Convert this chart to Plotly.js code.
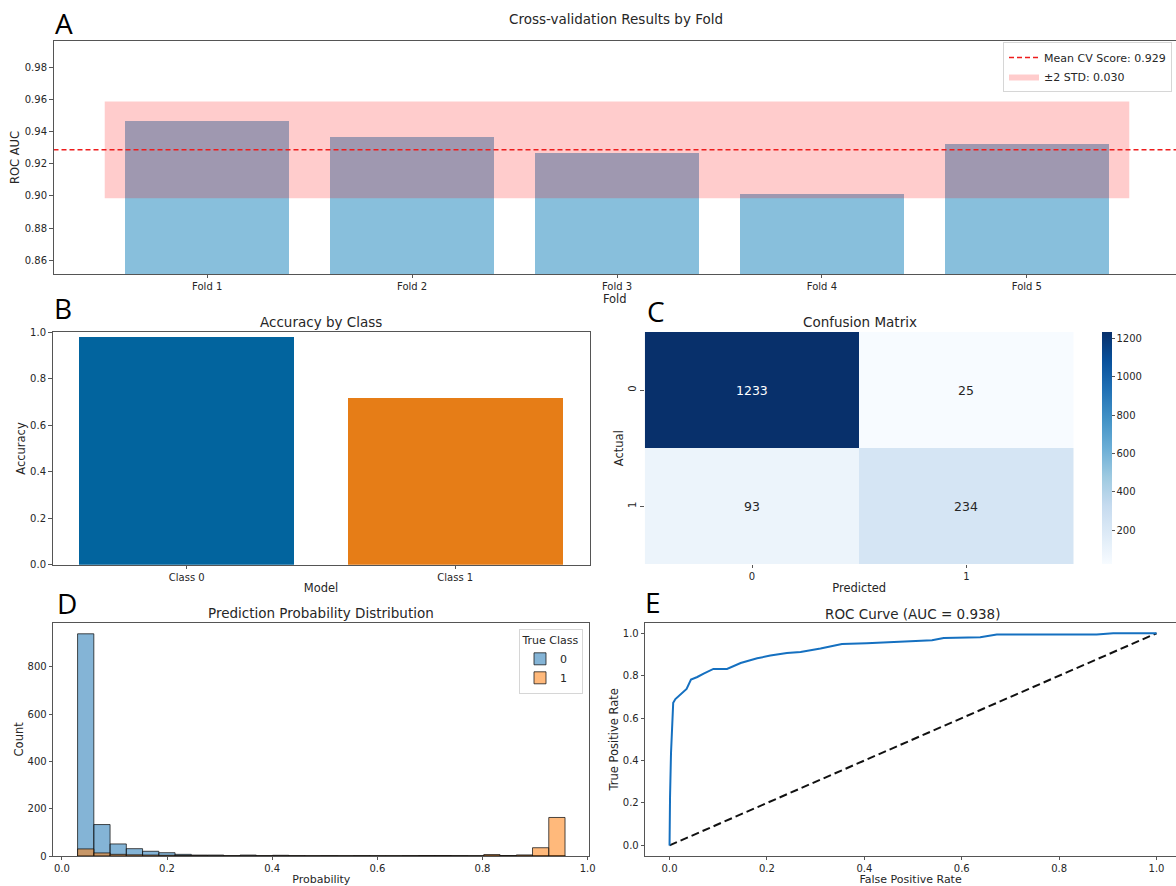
<!DOCTYPE html>
<html>
<head>
<meta charset="utf-8">
<script src="https://cdn.plot.ly/plotly-3.0.1.min.js"></script>
<style>
  html, body { margin: 0; padding: 0; background: #ffffff; }
  #chart { width: 1176px; height: 886px; }
</style>
</head>
<body>
<div id="chart"></div>
<script>
// ---- A: ROC AUC per cross-validation fold ----
const foldLabels = ['Fold 1', 'Fold 2', 'Fold 3', 'Fold 4', 'Fold 5'];
const foldScores = [0.9463, 0.9367, 0.9268, 0.9015, 0.9322];

// ---- B / C: per-class accuracy and confusion matrix ----
const classLabels = ['Class 0', 'Class 1'];
const matrixLabels = ['0', '1'];
const confusion = [[1233, 25], [93, 234]];

// ---- D: predicted probability histogram (30 equal bins) ----
const binStart = 0.0299;
const binWidth = 0.0309;
const class0Counts = [940, 133, 51, 31, 20, 14, 7, 4, 4, 1, 4, 1, 3, 1, 0,
                      1, 0, 1, 0, 0, 1, 2, 2, 1, 0, 3, 2, 3, 2, 2];
const class1Counts = [30, 13, 7, 5, 4, 3, 2, 2, 1, 1, 1, 1, 1, 1, 1,
                      1, 1, 1, 1, 1, 1, 2, 2, 1, 1, 6, 2, 4, 35, 163];

// ---- E: ROC curve ----
const rocAuc = 0.938;
const fpr = [0, 0.000, 0.001, 0.003, 0.006, 0.0075, 0.012, 0.019, 0.028, 0.035, 0.044,
             0.057, 0.070, 0.090, 0.118, 0.146, 0.180, 0.207, 0.241, 0.269, 0.310,
             0.354, 0.405, 0.474, 0.539, 0.563, 0.638, 0.672, 0.877, 0.911, 1.0];
const tpr = [0, 0.050, 0.231, 0.436, 0.593, 0.672, 0.690, 0.706, 0.726, 0.738, 0.782,
             0.794, 0.810, 0.832, 0.832, 0.860, 0.882, 0.895, 0.907, 0.912, 0.928,
             0.950, 0.953, 0.962, 0.967, 0.978, 0.981, 0.994, 0.994, 1.0, 1.0];

// ---------------------------------------------------------------
const W = 1176, H = 886;
const px = x => x / W;
const py = y => 1 - y / H;

const FONT = 'DejaVu Sans, sans-serif';
const TXT = '#262626';
const AX = '#555555';

// fold statistics
const n = foldScores.length;
const mean = foldScores.reduce((a, b) => a + b, 0) / n;
const std = Math.sqrt(foldScores.reduce((a, b) => a + (b - mean) ** 2, 0) / n);
const foldIdx = foldLabels.map((_, i) => i);
const xRangeA = [-0.75, 4.728];

// class accuracy = diagonal / row total
const classAcc = confusion.map((row, i) => row[i] / row.reduce((a, b) => a + b, 0));

// histogram bin centres
const binCenters = class0Counts.map((_, i) => binStart + (i + 0.5) * binWidth);
const histLo = binStart, histHi = binStart + class0Counts.length * binWidth;
const histPad = 0.05 * (histHi - histLo);

const flat = confusion.flat();
const zMin = Math.min(...flat), zMax = Math.max(...flat);

// matplotlib "Blues"
const blues = [
  [0.000, '#f7fbff'], [0.125, '#deebf7'], [0.250, '#c6dbef'], [0.375, '#9ecae1'],
  [0.500, '#6baed6'], [0.625, '#4292c6'], [0.750, '#2171b5'], [0.875, '#08519c'],
  [1.000, '#08306b']
];

const traces = [
  // A
  {
    type: 'bar', x: foldIdx, y: foldScores, width: 0.8,
    marker: { color: 'rgb(136,191,220)', line: { width: 0 } },
    xaxis: 'x', yaxis: 'y', showlegend: false, hoverinfo: 'y'
  },
  {
    type: 'scatter', mode: 'lines',
    x: [-0.5, n - 0.5, n - 0.5, -0.5, -0.5],
    y: [mean - 2 * std, mean - 2 * std, mean + 2 * std, mean + 2 * std, mean - 2 * std],
    fill: 'toself', fillcolor: 'rgba(255,0,0,0.2)', line: { width: 0 },
    name: '±2 STD: ' + (2 * std).toFixed(3), legendrank: 2,
    xaxis: 'x', yaxis: 'y', legend: 'legend', hoverinfo: 'skip'
  },
  {
    type: 'scatter', mode: 'lines', x: xRangeA, y: [mean, mean],
    line: { color: '#ee1c1c', width: 1.4, dash: '5px,3px' },
    name: 'Mean CV Score: ' + mean.toFixed(3), legendrank: 1,
    xaxis: 'x', yaxis: 'y', legend: 'legend'
  },
  // B
  {
    type: 'bar', x: classLabels, y: classAcc, width: 0.8,
    marker: { color: ['#02649E', '#E67D17'], line: { width: 0 } },
    xaxis: 'x2', yaxis: 'y2', showlegend: false
  },
  // C
  {
    type: 'heatmap', z: confusion, x: matrixLabels, y: matrixLabels,
    colorscale: blues, zmin: zMin, zmax: zMax,
    xaxis: 'x3', yaxis: 'y3', showscale: true,
    colorbar: {
      x: px(1101.5), xanchor: 'left', xpad: 0,
      y: py(448), yanchor: 'middle', ypad: 0,
      len: (564 - 332) / H, lenmode: 'fraction',
      thickness: 10, thicknessmode: 'pixels', outlinewidth: 0,
      tickvals: [200, 400, 600, 800, 1000, 1200],
      ticks: 'outside', ticklen: 3, tickcolor: AX,
      tickfont: { family: FONT, size: 10, color: TXT }
    }
  },
  // D
  {
    type: 'bar', x: binCenters, y: class0Counts, width: binWidth, name: '0',
    marker: { color: 'rgba(31,119,180,0.55)', line: { color: 'rgba(20,20,20,0.85)', width: 0.9 } },
    xaxis: 'x4', yaxis: 'y4', legend: 'legend2'
  },
  {
    type: 'bar', x: binCenters, y: class1Counts, width: binWidth, name: '1',
    marker: { color: 'rgba(255,127,14,0.55)', line: { color: 'rgba(20,20,20,0.85)', width: 0.9 } },
    xaxis: 'x4', yaxis: 'y4', legend: 'legend2'
  },
  // E
  {
    type: 'scatter', mode: 'lines', x: [0, 1], y: [0, 1],
    line: { color: '#111111', width: 2, dash: '8px,4px' },
    xaxis: 'x5', yaxis: 'y5', showlegend: false
  },
  {
    type: 'scatter', mode: 'lines', x: fpr, y: tpr,
    line: { color: '#1570c0', width: 2 },
    xaxis: 'x5', yaxis: 'y5', showlegend: false
  }
];

const tickFont = { family: FONT, size: 10, color: TXT };
const titleFont = { family: FONT, size: 11.5, color: TXT };
const bottomTitleFont = { family: FONT, size: 11, color: TXT };
const baseAxis = {
  showgrid: false, zeroline: false, showline: true, linecolor: AX, linewidth: 1,
  ticks: 'outside', ticklen: 3.5, tickwidth: 1, tickcolor: AX,
  tickfont: tickFont, automargin: false, fixedrange: true
};

const layout = {
  width: W, height: H,
  margin: { l: 0, r: 0, t: 0, b: 0 },
  paper_bgcolor: '#ffffff', plot_bgcolor: '#ffffff',
  font: { family: FONT, color: TXT },
  barmode: 'overlay', bargap: 0,
  // A
  xaxis: Object.assign({}, baseAxis, {
    domain: [px(53.5), 1], range: xRangeA,
    tickvals: foldIdx, ticktext: foldLabels, mirror: true, ticklen: 3,
    title: { text: 'Fold', font: titleFont, standoff: 1 }
  }),
  yaxis: Object.assign({}, baseAxis, {
    domain: [py(274), py(41)],
    range: [Math.min(...foldScores) - 0.05, Math.max(...foldScores) + 0.05],
    dtick: 0.02, tick0: 0.86, tickformat: '.2f',
    title: { text: 'ROC AUC', font: titleFont, standoff: 2 }
  }),
  // B
  xaxis2: Object.assign({}, baseAxis, {
    domain: [px(52.5), px(589.5)], range: [-0.5, 1.5], mirror: true,
    type: 'category', anchor: 'y2', ticklen: 3,
    title: { text: 'Model', font: titleFont, standoff: 2 }
  }),
  yaxis2: Object.assign({}, baseAxis, {
    domain: [py(564.7), py(332.3)], range: [0, 1], mirror: true,
    dtick: 0.2, tickformat: '.1f', anchor: 'x2',
    title: { text: 'Accuracy', font: titleFont, standoff: 2 }
  }),
  // C
  xaxis3: Object.assign({}, baseAxis, {
    domain: [px(644.8), px(1073.6)], type: 'category', showline: false,
    anchor: 'y3', ticklen: 3,
    title: { text: 'Predicted', font: titleFont, standoff: 2 }
  }),
  yaxis3: Object.assign({}, baseAxis, {
    domain: [py(564.3), py(332)], type: 'category', showline: false,
    autorange: 'reversed', tickangle: -90, anchor: 'x3',
    title: { text: 'Actual', font: titleFont, standoff: 1 }
  }),
  // D
  xaxis4: Object.assign({}, baseAxis, {
    domain: [px(53.2), px(589.4)], range: [histLo - histPad, histHi + histPad],
    dtick: 0.2, tick0: 0, tickformat: '.1f', mirror: true, anchor: 'y4', ticklen: 3,
    title: { text: 'Probability', font: bottomTitleFont, standoff: 4 }
  }),
  yaxis4: Object.assign({}, baseAxis, {
    domain: [py(856), py(622.7)], range: [0, Math.max(...class0Counts) * 1.05],
    dtick: 200, mirror: true, anchor: 'x4',
    title: { text: 'Count', font: titleFont, standoff: 1 }
  }),
  // E
  xaxis5: Object.assign({}, baseAxis, {
    domain: [px(645.2), 1], range: [-0.05, 1.04],
    dtick: 0.2, tick0: 0, tickformat: '.1f', mirror: true, anchor: 'y5', ticklen: 3,
    title: { text: 'False Positive Rate', font: bottomTitleFont, standoff: 4 }
  }),
  yaxis5: Object.assign({}, baseAxis, {
    domain: [py(856), py(622.7)], range: [-0.05, 1.05],
    dtick: 0.2, tick0: 0, tickformat: '.1f', anchor: 'x5',
    title: { text: 'True Positive Rate', font: titleFont, standoff: 1 }
  }),
  legend: {
    x: px(1172), xanchor: 'right', y: py(42), yanchor: 'top',
    bgcolor: 'rgba(255,255,255,0.9)', bordercolor: '#d6d6d6', borderwidth: 1,
    font: { family: FONT, size: 11, color: TXT }, tracegroupgap: 0
  },
  legend2: {
    x: px(583), xanchor: 'right', y: py(629), yanchor: 'top',
    bgcolor: 'rgba(255,255,255,0.9)', bordercolor: '#d6d6d6', borderwidth: 1,
    title: { text: 'True Class', font: { family: FONT, size: 11, color: TXT }, side: 'top center' },
    font: { family: FONT, size: 11, color: TXT }
  },
  annotations: []
};

// panel titles
const panelTitles = [
  ['Cross-validation Results by Fold', 616, 19.5],
  ['Accuracy by Class', 321, 322],
  ['Confusion Matrix', 859.5, 322],
  ['Prediction Probability Distribution', 321, 613],
  ['ROC Curve (AUC = ' + rocAuc.toFixed(3) + ')', 912, 613.5]
];
panelTitles.forEach(([t, x, y]) => layout.annotations.push({
  text: t, xref: 'paper', yref: 'paper', x: px(x), y: py(y),
  xanchor: 'center', yanchor: 'middle', showarrow: false,
  font: { family: FONT, size: 13.5, color: TXT }
}));

// panel letters
const letters = [['A', 63.5, 23.5], ['B', 63, 307.5], ['C', 656, 311], ['D', 66.5, 603], ['E', 652.5, 602]];
letters.forEach(([t, x, y]) => layout.annotations.push({
  text: t, xref: 'paper', yref: 'paper', x: px(x), y: py(y),
  xanchor: 'center', yanchor: 'middle', showarrow: false,
  font: { family: 'Open Sans, sans-serif', size: 28, color: '#000000' }
}));

// confusion matrix cell values
confusion.forEach((row, i) => row.forEach((v, j) => layout.annotations.push({
  text: String(v), xref: 'x3', yref: 'y3', x: matrixLabels[j], y: matrixLabels[i],
  showarrow: false,
  font: { family: FONT, size: 12.5, color: v > (zMin + zMax) / 2 ? '#ffffff' : TXT }
})));

Plotly.newPlot('chart', traces, layout, { displayModeBar: false, staticPlot: true });
</script>
</body>
</html>
